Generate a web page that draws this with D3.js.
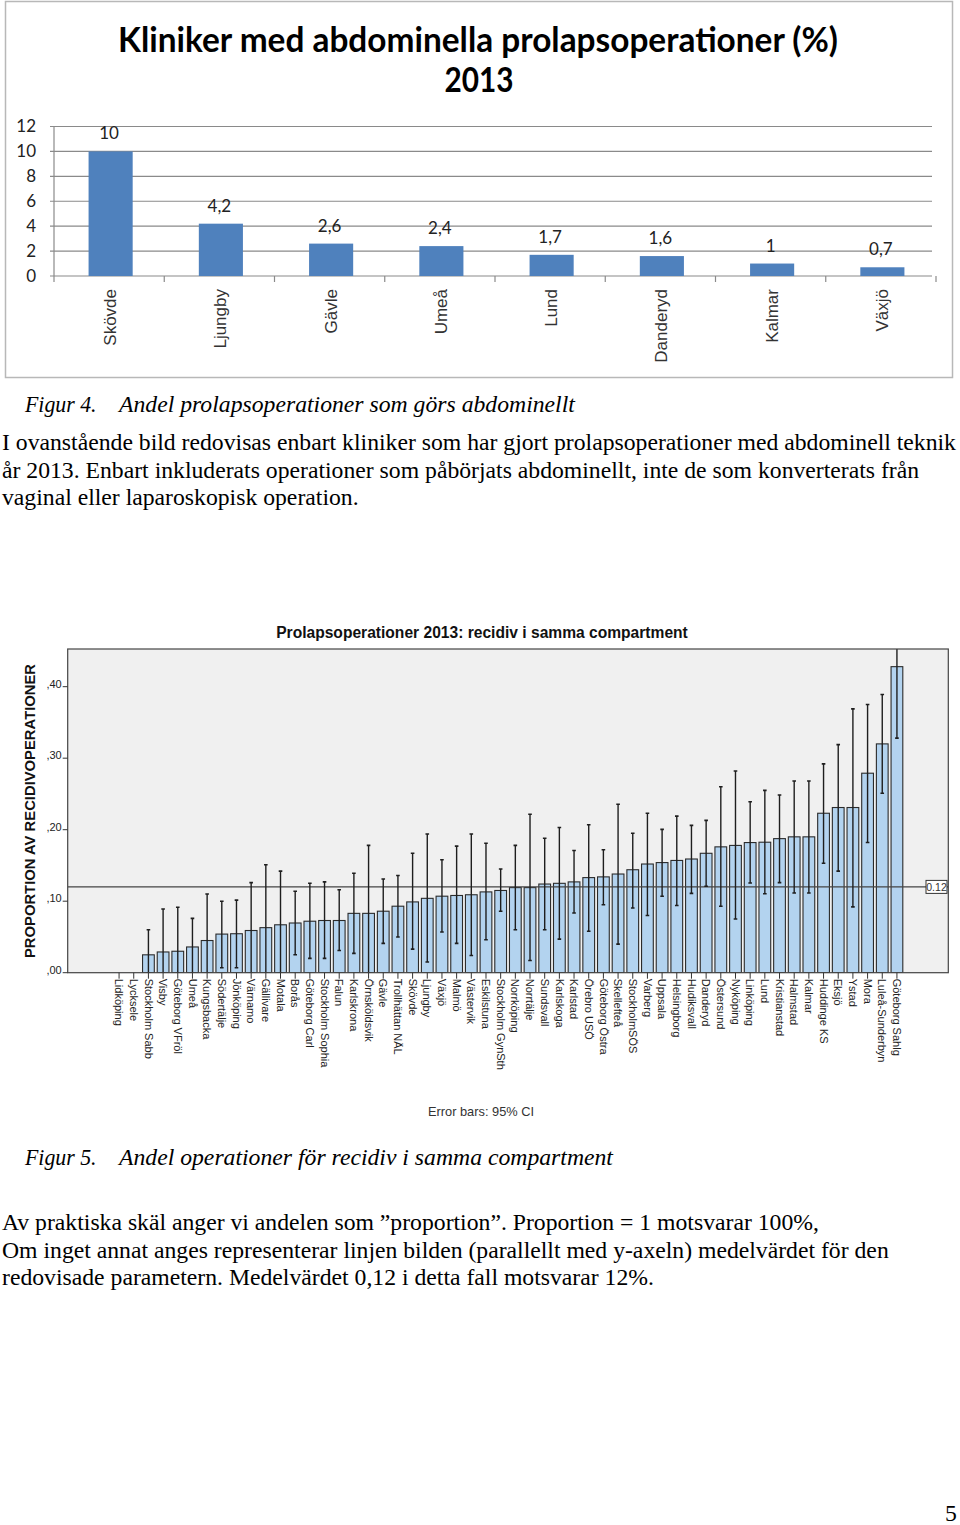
<!DOCTYPE html>
<html><head><meta charset="utf-8">
<script src="https://cdn.jsdelivr.net/npm/d3@7"></script>
<style>body{margin:0;background:#fff}svg{display:block}</style>
</head><body><svg id="page" width="960" height="1525"></svg>
<script>
// ---- Chart 1 data ----
const clinics1 = ["Skövde","Ljungby","Gävle","Umeå","Lund","Danderyd","Kalmar","Växjö"];
const values1 = [10, 4.2, 2.6, 2.4, 1.7, 1.6, 1, 0.7];
const valueLabels1 = ["10","4,2","2,6","2,4","1,7","1,6","1","0,7"];
const yTicks1 = [0,2,4,6,8,10,12];

// ---- Chart 2 data ----
const clinics2 = ["Lidköping","Lycksele","Stockholm Sabb","Visby","Göteborg VFröl","Umeå","Kungsbacka","Södertälje","Jönköping","Värnamo","Gällivare","Motala","Borås","Göteborg Carl","Stockholm Sophia","Falun","Karlskrona","Örnsköldsvik","Gävle","Trollhättan NÄL","Skövde","Ljungby","Växjö","Malmö","Västervik","Eskilstuna","Stockholm GynSth","Norrköping","Norrtälje","Sundsvall","Karlskoga","Karlstad","Örebro USÖ","Göteborg Östra","Skellefteå","StockholmSÖS","Varberg","Uppsala","Helsingborg","Hudiksvall","Danderyd","Östersund","Nyköping","Linköping","Lund","Kristianstad","Halmstad","Kalmar","Huddinge KS","Eksjö","Ystad","Mora","Luleå-Sunderbyn","Göteborg Sahlg"];
const values2 = [0,0,0.025,0.029,0.030,0.036,0.045,0.054,0.0545,0.059,0.063,0.067,0.0695,0.072,0.073,0.073,0.083,0.083,0.086,0.093,0.099,0.104,0.107,0.108,0.109,0.113,0.115,0.119,0.119,0.124,0.125,0.127,0.133,0.134,0.138,0.144,0.152,0.154,0.157,0.159,0.167,0.176,0.178,0.182,0.1825,0.1875,0.190,0.190,0.223,0.231,0.231,0.279,0.320,0.428];
const lower2 = [null,null,0,0,0,0,0,0.007,0.007,0,0,0,0.025,0.020,0.020,0.031,0.027,0,0.041,0.050,0.033,0.015,0.057,0.041,0.024,0.046,0.086,0.060,0.017,0.060,0.047,0.0835,0.058,0.095,0.040,0.0905,0.080,0.107,0.094,0.111,0.121,0.093,0.075,0.1255,0.1105,0.126,0.1115,0.1115,0.153,0.142,0.092,0.182,0.251,0.328];
const upper2 = [null,null,0.060,0.089,0.0915,0.076,0.110,0.100,0.1015,0.126,0.151,0.142,0.114,0.125,0.127,0.116,0.139,0.178,0.131,0.136,0.167,0.194,0.158,0.177,0.194,0.181,0.145,0.178,0.2215,0.188,0.203,0.171,0.207,0.172,0.2355,0.195,0.223,0.2005,0.219,0.206,0.213,0.260,0.282,0.239,0.255,0.2485,0.268,0.268,0.292,0.319,0.369,0.375,0.389,0.53];
const yTicks2 = [0,0.1,0.2,0.3,0.4];
const yTickLabels2 = [",00",",10",",20",",30",",40"];
const meanValue2 = 0.12;
const meanLabel2 = "0.12";

const svg = d3.select("#page");
svg.append("rect").attr("width",960).attr("height",1525).attr("fill","#fff");

// ================= Chart 1 =================
const c1 = svg.append("g");
c1.append("rect").attr("x",5.5).attr("y",1.5).attr("width",947).attr("height",376)
  .attr("fill","#fff").attr("stroke","#b8b8b8").attr("stroke-width",1.5);
const titleFont = "Lato, 'Open Sans', sans-serif";
c1.append("text").attr("x",478).attr("y",52).attr("text-anchor","middle")
  .attr("font-family",titleFont).attr("font-weight","bold").attr("font-size",34)
  .attr("textLength",720).attr("lengthAdjust","spacingAndGlyphs")
  .text("Kliniker med abdominella prolapsoperationer (%)");
c1.append("text").attr("x",479).attr("y",92).attr("text-anchor","middle")
  .attr("font-family",titleFont).attr("font-weight","bold").attr("font-size",34)
  .attr("textLength",69).attr("lengthAdjust","spacingAndGlyphs")
  .text("2013");

const x1 = d3.scaleBand().domain(clinics1).range([54,936]).paddingInner(0.6).paddingOuter(0.3);
const y1 = d3.scaleLinear().domain([0,12]).range([276,126.5]);

c1.append("g").selectAll("line").data(yTicks1).join("line")
  .attr("x1",50).attr("x2",932).attr("y1",d=>y1(d)).attr("y2",d=>y1(d))
  .attr("stroke","#8a8a8a").attr("stroke-width",1.2);
c1.append("line").attr("x1",54).attr("x2",54).attr("y1",y1(12)).attr("y2",282)
  .attr("stroke","#8a8a8a").attr("stroke-width",1.2);
const step1 = x1.step();
c1.append("g").selectAll("line").data(d3.range(1,clinics1.length+1)).join("line")
  .attr("x1",d=>54+d*step1).attr("x2",d=>54+d*step1).attr("y1",276).attr("y2",282)
  .attr("stroke","#8a8a8a").attr("stroke-width",1.2);
c1.append("g").selectAll("text").data(yTicks1).join("text")
  .attr("x",36).attr("y",d=>y1(d)).attr("dy","0.35em").attr("text-anchor","end")
  .attr("font-family",titleFont).attr("font-size",17).attr("fill","#222")
  .text(d=>d);
c1.append("g").selectAll("rect").data(values1).join("rect")
  .attr("x",(d,i)=>x1(clinics1[i])+1.5).attr("width",x1.bandwidth())
  .attr("y",d=>y1(d)).attr("height",d=>y1(0)-y1(d)).attr("fill","#4f81bd");
c1.append("g").selectAll("text").data(values1).join("text")
  .attr("x",(d,i)=>x1(clinics1[i])+x1.bandwidth()/2).attr("y",d=>y1(d)-12)
  .attr("text-anchor","middle").attr("font-family",titleFont).attr("font-size",17).attr("fill","#222")
  .text((d,i)=>valueLabels1[i]);
c1.append("g").selectAll("text").data(clinics1).join("text")
  .attr("transform",d=>`translate(${x1(d)+x1.bandwidth()/2+1},289) rotate(-90)`)
  .attr("dy","0.35em").attr("text-anchor","end")
  .attr("font-family","'Liberation Sans', Arial, sans-serif").attr("font-size",17).attr("fill","#333")
  .text(d=>d);

// ================= Text blocks =================
const serif = "'Liberation Serif', 'Times New Roman', serif";
const FS = 22.3, SX = 1.063;
function stretched(t, x, y, italic, sx){
  svg.append("text").attr("transform",`translate(${x},${y}) scale(${sx===undefined?SX:sx},1)`)
    .attr("font-family",serif).attr("font-size",FS).attr("fill","#000")
    .attr("font-style",italic?"italic":"normal").text(t);
}
function para(lines, y0, lh, x){ lines.forEach((t,i)=>stretched(t,x,y0+i*lh,false)); }
function caption(a,b,y){ stretched(a,25,y,true,0.98); stretched(b,119,y,true); }
caption("Figur 4.","Andel prolapsoperationer som görs abdominellt",412);
para(["I ovanstående bild redovisas enbart kliniker som har gjort prolapsoperationer med abdominell teknik",
      "år 2013. Enbart inkluderats operationer som påbörjats abdominellt, inte de som konverterats från",
      "vaginal eller laparoskopisk operation."],450,27.5,2);
caption("Figur 5.","Andel operationer för recidiv i samma compartment",1165);
para(["Av praktiska skäl anger vi andelen som ”proportion”. Proportion = 1 motsvarar 100%,",
      "Om inget annat anges representerar linjen bilden (parallellt med y-axeln) medelvärdet för den",
      "redovisade parametern. Medelvärdet 0,12 i detta fall motsvarar 12%."],1230,27.5,2);
stretched("5",945,1521,false);

// ================= Chart 2 =================
const sans = "'Liberation Sans', Arial, sans-serif";
const L=67.7, R=948.3, T=649, B=972.7;
const c2 = svg.append("g");
const x2 = d3.scaleBand().domain(clinics2).range([L,R]).paddingInner(0.2).paddingOuter(3.1);
const y2 = d3.scaleLinear().domain([0,0.4527]).range([B,T]);

c2.append("text").attr("x",482).attr("y",638).attr("text-anchor","middle")
  .attr("font-family",sans).attr("font-weight","bold").attr("font-size",15.6).attr("fill","#111")
  .text("Prolapsoperationer 2013:  recidiv i samma compartment");
c2.append("rect").attr("x",L).attr("y",T).attr("width",R-L).attr("height",B-T)
  .attr("fill","#f0f0f0");

c2.append("clipPath").attr("id","clip2").append("rect")
  .attr("x",L).attr("y",T).attr("width",R-L).attr("height",B-T);
const plot = c2.append("g").attr("clip-path","url(#clip2)");
plot.selectAll("rect.bar").data(values2).join("rect").attr("class","bar")
  .attr("x",(d,i)=>x2(clinics2[i])).attr("width",x2.bandwidth())
  .attr("y",d=>y2(d)).attr("height",d=>y2(0)-y2(d))
  .attr("fill","#b3d3ef").attr("stroke","#2b2b2b").attr("stroke-width",1.1);
plot.append("line").attr("x1",L).attr("x2",R).attr("y1",y2(meanValue2)).attr("y2",y2(meanValue2))
  .attr("stroke","#444").attr("stroke-width",1.3);
const eb = plot.append("g").selectAll("g").data(values2.map((v,i)=>i).filter(i=>lower2[i]!==null)).join("g");
const cx = i=>x2(clinics2[i])+x2.bandwidth()/2;
eb.append("line").attr("x1",cx).attr("x2",cx).attr("y1",i=>y2(lower2[i])).attr("y2",i=>y2(upper2[i]))
  .attr("stroke","#1e1e1e").attr("stroke-width",1.4);
eb.append("line").attr("x1",i=>cx(i)-1.8).attr("x2",i=>cx(i)+1.8).attr("y1",i=>y2(upper2[i])).attr("y2",i=>y2(upper2[i]))
  .attr("stroke","#1e1e1e").attr("stroke-width",1.6);
eb.append("line").attr("x1",i=>cx(i)-1.8).attr("x2",i=>cx(i)+1.8).attr("y1",i=>y2(lower2[i])).attr("y2",i=>y2(lower2[i]))
  .attr("stroke","#1e1e1e").attr("stroke-width",1.6);

c2.append("rect").attr("x",L).attr("y",T).attr("width",R-L).attr("height",B-T)
  .attr("fill","none").attr("stroke","#444").attr("stroke-width",1.2);

const mg = c2.append("g").attr("transform",`translate(926,${y2(meanValue2)})`);
mg.append("rect").attr("x",0).attr("y",-6.5).attr("width",21).attr("height",13)
  .attr("fill","#fff").attr("stroke","#333").attr("stroke-width",1);
mg.append("text").attr("x",10.5).attr("y",0).attr("dy","0.35em").attr("text-anchor","middle")
  .attr("font-family",sans).attr("font-size",10.5).attr("fill","#333").text(meanLabel2);

const ya = c2.append("g");
ya.selectAll("line").data(yTicks2).join("line")
  .attr("x1",L-5).attr("x2",L).attr("y1",d=>y2(d)).attr("y2",d=>y2(d)).attr("stroke","#333");
ya.selectAll("text").data(yTicks2).join("text")
  .attr("x",L-6).attr("y",d=>y2(d)+1).attr("text-anchor","end")
  .attr("font-family",sans).attr("font-size",11).attr("fill","#222")
  .text((d,i)=>yTickLabels2[i]);
c2.append("text").attr("transform","translate(35,811) rotate(-90)").attr("text-anchor","middle")
  .attr("font-family",sans).attr("font-weight","bold").attr("font-size",14.8).attr("fill","#111")
  .text("PROPORTION AV RECIDIVOPERATIONER");

const xa = c2.append("g");
xa.selectAll("line").data(clinics2).join("line")
  .attr("x1",d=>x2(d)+x2.bandwidth()/2).attr("x2",d=>x2(d)+x2.bandwidth()/2)
  .attr("y1",B).attr("y2",B+6).attr("stroke","#333");
xa.selectAll("text").data(clinics2).join("text")
  .attr("transform",d=>`translate(${x2(d)+x2.bandwidth()/2},${B+6}) rotate(90)`)
  .attr("dy","0.35em").attr("text-anchor","start")
  .attr("font-family",sans).attr("font-size",11).attr("fill","#222")
  .text(d=>d);

c2.append("text").attr("x",481).attr("y",1116).attr("text-anchor","middle")
  .attr("font-family",sans).attr("font-size",12.8).attr("fill","#333").text("Error bars: 95% CI");
</script></body></html>
